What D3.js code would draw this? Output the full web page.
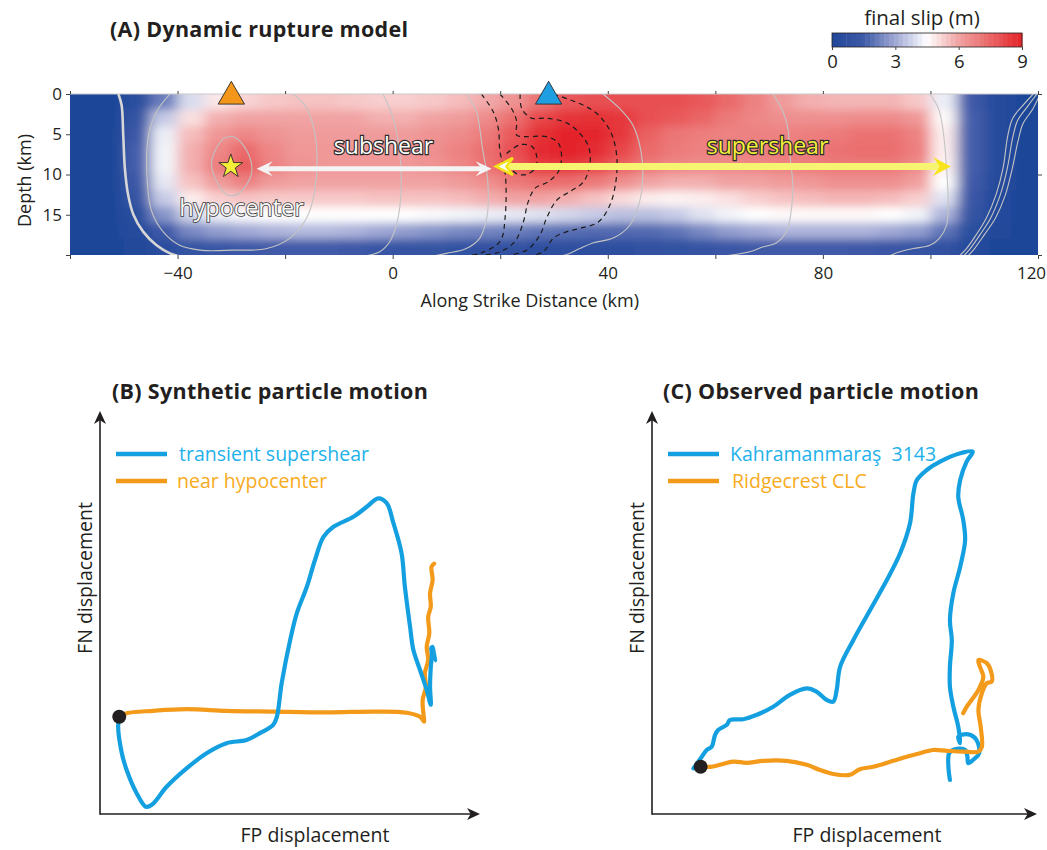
<!DOCTYPE html>
<html><head><meta charset="utf-8">
<script src="https://cdn.jsdelivr.net/npm/d3@7"></script>
<style>
body{margin:0;background:#fff;}
svg text{font-family:"Open Sans","Noto Sans",sans-serif;fill:#231f20;}
</style></head><body>
<svg id="fig" width="1047" height="850"></svg>
<script>
// ---------- Panel A: final slip of the dynamic rupture model ----------
// cell centres along strike (km) and down dip (km)
const strikeKm = [-57.5,-52.5,-47.5,-42.5,-37.5,-32.5,-27.5,-22.5,-17.5,-12.5,-7.5,-2.5,2.5,7.5,12.5,17.5,22.5,27.5,32.5,37.5,42.5,47.5,52.5,57.5,62.5,67.5,72.5,77.5,82.5,87.5,92.5,97.5,102.5,107.5,112.5,117.5];
const depthKm = [1,3,5,7,9,11,13,15,17,19];
// final slip (m), one row per depth
const slip01 = [0,0,0.6,2.2,3.9,4.9,5.2,5.4,5.5,5.5,5.4,5.3,5.3,5.4,5.6,5.9,6.4,7.2,7.8,8.0,8.0,8.0,8.0,7.8,7.4,6.8,6.2,5.8,5.7,5.7,5.7,5.4,4.2,1.5,0.3,0];
const slip03 = [0,0,1.0,3.6,5.0,5.8,6.0,6.0,6.0,6.0,6.0,5.8,5.8,6.0,6.2,6.6,7.3,8.2,8.6,8.7,8.5,8.0,7.8,7.5,7.0,6.7,6.5,6.5,6.5,6.6,6.6,6.3,4.6,1.6,0.3,0];
const slip05 = [0,0,1.4,4.2,5.6,6.3,6.7,6.4,6.2,6.2,6.2,6.2,6.2,6.4,6.6,7.0,7.8,8.7,9.0,8.9,8.5,7.6,7.1,6.9,6.8,6.8,6.8,6.9,7.0,7.2,7.2,6.8,4.8,1.6,0.3,0];
const slip07 = [0,0,1.6,4.3,5.8,6.7,7.4,6.7,6.3,6.3,6.3,6.3,6.3,6.5,6.8,7.3,8.0,8.8,9.0,8.8,8.2,7.4,7.0,6.8,6.8,6.9,7.0,7.0,7.2,7.3,7.3,6.9,4.8,1.6,0.3,0];
const slip09 = [0,0,1.6,4.3,5.8,6.9,7.7,6.8,6.4,6.3,6.3,6.3,6.3,6.4,6.7,7.2,7.8,8.4,8.5,8.2,7.6,7.0,6.7,6.6,6.6,6.7,6.8,6.9,7.0,7.0,7.0,6.6,4.7,1.6,0.3,0];
const slip11 = [0,0,1.4,4.1,5.5,6.2,6.8,6.2,6.0,6.0,6.0,6.0,6.0,6.0,6.2,6.5,7.0,7.3,7.3,7.0,6.5,6.0,5.8,5.8,6.0,6.0,6.2,6.3,6.5,6.5,6.5,6.1,4.5,1.5,0.3,0];
const slip13 = [0,0,1.0,3.6,4.8,5.3,5.5,5.4,5.4,5.4,5.4,5.5,5.5,5.5,5.6,5.8,6.0,6.0,5.8,5.5,5.1,4.8,4.7,4.8,5.0,5.3,5.5,5.6,5.7,5.7,5.6,5.3,4.0,1.3,0.2,0];
const slip15 = [0,0,0.6,2.6,3.8,4.2,4.4,4.5,4.5,4.5,4.5,4.5,4.5,4.4,4.3,4.2,4.1,4.0,3.8,3.6,3.4,3.4,3.6,4.0,4.3,4.5,4.6,4.6,4.6,4.6,4.5,4.3,3.2,1.0,0.2,0];
const slip17 = [0,0,0.3,1.4,2.4,2.8,3.0,3.2,3.3,3.3,3.2,3.0,2.8,2.6,2.4,2.3,2.2,2.0,1.9,1.8,1.8,1.8,2.0,2.4,2.8,3.0,3.2,3.2,3.2,3.2,3.0,2.8,2.0,0.6,0.1,0];
const slip19 = [0,0,0.1,0.5,1.0,1.2,1.4,1.5,1.5,1.5,1.4,1.2,1.1,1.0,0.9,0.8,0.8,0.7,0.7,0.7,0.7,0.8,0.9,1.1,1.3,1.5,1.5,1.5,1.5,1.4,1.3,1.1,0.8,0.3,0,0];
const slipRows = [slip01,slip03,slip05,slip07,slip09,slip11,slip13,slip15,slip17,slip19];

// colour map stops (m) and colours
const slipStops = [0,1.5,3,4.5,6,7.5,9];
const slipColors = ['#1f4799','#3f5aa8','#a0a9d5','#ffffff','#f1a3a3','#ea6666','#e3232a'];
const slipTicks = [0,3,6,9];

// rupture-front contours (solid, grey) as [along strike km, depth km]
const frontEdgeW = [[-51.0,0],[-50.4,1.4],[-50.1,5.1],[-49.8,9.2],[-49.2,12.5],[-48.2,15.0],[-46.4,17.1],[-43.9,18.8],[-41.4,19.8],[-39,20.3]];
const frontHypo = [[-31.5,5.5],[-29.6,5.3],[-28.1,6.1],[-26.5,8.0],[-26.2,9.7],[-27.2,11.3],[-29.0,12.5],[-30.9,12.5],[-32.7,10.9],[-33.7,8.8],[-33.0,7.0],[-31.5,5.5]];
const frontRing1 = [[-41.4,0],[-43.9,2.2],[-45.4,5.1],[-45.6,11.3],[-44.8,14.6],[-42.7,17.1],[-39.6,18.8],[-35.8,19.4],[-29.6,19.4],[-23.4,19.2],[-19.1,17.9],[-16.0,15.4],[-14.5,12.1],[-14.1,7.2],[-14.8,3.9],[-16.3,1.4],[-18.5,0]];
const frontRing2 = [[-1.8,0],[0.1,3.0],[1.3,7.2],[1.6,11.3],[1.0,15.4],[-0.5,18.3],[-2.4,19.6],[-6,20.2]];
const frontRing3 = [[13.7,0],[15.6,2.2],[16.2,4.3],[16.8,7.2],[17.5,9.7],[17.8,12.5],[17.5,15.4],[16.2,17.9],[13.7,19.2],[10.0,19.8],[7,20.2]];
const frontRing4 = [[39.1,0],[42.2,1.8],[44.7,3.9],[46.2,7.2],[46.5,10.5],[45.9,13.4],[44.1,16.3],[41.0,17.9],[37.2,18.5],[34.8,19.2],[32.9,19.8],[31,20.2]];
const frontRing5 = [[70.7,0],[72.6,2.2],[73.5,4.3],[73.8,7.2],[74.4,11.3],[74.1,14.6],[73.2,17.1],[71.3,18.5],[68.8,19.0],[66.4,19.6],[62.0,20.1]];
const frontRing6 = [[99.9,0],[101.5,1.8],[102.3,4.3],[103.0,9.2],[103.3,13.4],[103.0,16.3],[101.7,17.9],[99.9,18.8],[96.8,19.2],[94.3,19.6],[92.4,20.1]];
const frontEdgeE1 = [[119.1,0],[117.2,1.4],[115.3,3.0],[114.4,5.1],[113.5,9.2],[112.2,12.5],[110.4,15.4],[108.5,17.5],[106.7,19.2],[105.4,20.1]];
const frontEdgeE2 = [[119.8,0],[118.0,1.6],[116.2,3.3],[115.3,5.4],[114.3,9.2],[113.0,12.5],[111.2,15.4],[109.2,17.5],[107.4,19.2],[106.2,20.1]];
const frontEdgeE3 = [[120.2,0.3],[119.0,1.9],[117.2,3.7],[116.3,5.8],[115.2,9.3],[113.9,12.6],[112.1,15.4],[110.0,17.5],[108.2,19.2],[107.0,20.1]];
const rupFronts = [frontRing1,frontRing2,frontRing3,frontRing4,frontRing5,frontRing6,frontEdgeE1,frontEdgeE2,frontEdgeE3];

// dashed contours around the slip peak
const dashC1 = [[16.5,0],[18.7,2.2],[19.65,4.3],[19.96,7.2],[20.9,9.7],[20.9,15.4],[19.96,18.3],[16.2,19.8],[13.1,20.1]];
const dashC2 = [[19.96,0],[22.1,1.8],[23.06,3.4],[23.06,5.1],[24.9,5.3],[28.6,5.3],[30.8,6.1],[31.4,7.8],[30.8,9.65],[28.95,10.9],[26.5,11.7],[25.2,13.4],[24.3,15.9],[22.75,18.3],[19.96,19.6],[15.6,20.1]];
const dashC3 = [[21.2,7.4],[23.7,6.3],[25.85,6.5],[26.8,7.8],[26.5,9.2],[24.9,10.0],[23.06,9.9],[21.8,9.2]];
const dashC4 = [[23.7,0],[24.0,1.8],[25.85,3.0],[28.6,3.0],[32.4,3.6],[34.8,4.9],[36.4,6.5],[36.7,8.6],[35.5,10.9],[33.0,12.1],[30.5,13.2],[28.6,15.45],[27.4,17.5],[24.9,19.4],[21.2,20.1]];
const dashC5 = [[29.9,0],[35.5,1.4],[37.9,2.4],[39.8,3.85],[41.0,5.5],[41.7,8.0],[41.5,10.9],[40.4,13.8],[38.25,15.9],[34.8,16.7],[32.4,17.1],[29.9,17.9],[28.0,19.6],[25.5,20.1]];
const dashContours = [dashC1,dashC2,dashC3,dashC4,dashC5];

// stations, hypocentre and rupture-speed arrows
const stationKm = [-30, 29];
const stationFill = ['#f39619','#1f9ee2'];
const hypocentre = [-30.1, 9.0];
const subshearSpan = [-25.3, 18.4, 9.3];
const supershearSpan = [19.0, 103.8, 9.0];

const xTicksA = [-60,-40,-20,0,20,40,60,80,100,120];
const xLabelsA = [-40,0,40,80,120];
const yTicksA = [0,5,10,15,20];
const yLabelsA = [0,5,10,15];

// ---------- Panels B and C: particle motion (arbitrary units) ----------
const synthSupershear = [[5.2,24.3],[4.9,21.8],[5.9,15.2],[7.2,11.0],[9.9,5.2],[12.4,1.8],[14.0,2.3],[18.0,6.8],[23.4,11.4],[28.8,15.2],[34.2,17.7],[39.6,18.5],[43.2,20.2],[46.8,22.3],[47.8,24.3],[49.1,32.7],[51.4,43.5],[53.2,50.2],[55.9,56.8],[58.1,63.5],[60.4,69.3],[63.1,71.8],[68.5,74.3],[72.1,76.8],[75.2,78.9],[77.5,77.7],[79.3,72.7],[81.5,65.2],[82.4,56.8],[83.8,46.8],[84.7,41.0],[86.5,36.0],[88.3,31.0],[89.4,27.3],[89.2,31.8],[89.4,36.8],[89.7,39.8],[89.5,41.6],[90.3,39.6],[89.9,41.8],[90.6,38.4],[90.1,40.6]];
const synthHypocentre = [[5.2,24.3],[7.2,25.2],[14.4,25.8],[23.4,26.2],[34.2,25.8],[46.8,25.6],[61.3,25.4],[74.8,25.6],[82.9,25.3],[86.5,24.3],[87.6,23.1],[87.6,23.5],[87.2,28.5],[88.1,31.8],[87.8,35.2],[88.7,38.5],[88.3,41.8],[89.0,45.2],[88.7,49.3],[89.4,51.8],[89.2,55.2],[89.9,58.5],[89.6,61.8],[90.3,62.6]];
const obsKahramanmaras = [[10.9,11.4],[13.1,14.3],[14.4,16.0],[15.7,16.8],[16.6,19.8],[17.4,21.0],[19.7,22.3],[20.5,23.5],[24.0,23.7],[27.6,24.8],[31.9,26.8],[36.3,29.8],[40.7,31.4],[43.3,30.6],[46.0,28.5],[47.7,28.1],[48.6,31.0],[49.5,36.8],[53.0,43.5],[57.4,51.0],[61.8,58.5],[65.3,65.2],[67.9,72.7],[68.8,80.2],[69.7,83.5],[72.3,86.0],[75.8,88.1],[81.1,90.2],[84.4,90.6],[82.8,88.1],[81.1,83.5],[80.6,79.3],[81.9,73.5],[82.4,68.5],[81.1,61.8],[79.3,55.2],[78.4,48.5],[78.9,43.5],[78.4,36.8],[78.4,31.8],[79.3,26.8],[80.6,21.8],[81.1,17.7],[80.6,19.3],[81.5,19.8],[83.7,19.8],[85.4,18.5],[86.1,15.2],[84.7,13.7],[83.2,12.7],[83.0,14.3],[82.4,16.0],[79.7,16.2],[78.2,15.2],[78.0,11.8],[78.4,8.5]];
const obsRidgecrest = [[12.8,11.8],[15.3,11.8],[17.9,12.3],[21.4,13.1],[24.9,12.8],[29.3,13.3],[35.4,13.3],[40.7,12.3],[44.2,11.0],[47.7,10.0],[52.1,9.8],[54.7,11.2],[58.2,11.8],[63.5,13.3],[67.0,14.3],[70.5,15.2],[74.0,16.0],[77.6,15.8],[81.9,15.6],[85.9,15.6],[86.8,16.8],[86.5,21.8],[85.9,26.0],[86.8,30.2],[88.1,32.7],[89.4,33.1],[89.1,36.0],[88.1,37.7],[85.9,38.5],[86.3,36.8],[87.2,34.3],[86.3,31.8],[85.4,30.2],[84.1,28.5],[82.8,26.8],[81.9,25.2]];

const blueLine = '#14a0e0', orangeLine = '#f39a1b';
const blueText = '#22b1ea', orangeText = '#f7ab1c';

// ====================== drawing ======================
const svg = d3.select('#fig');
const defs = svg.append('defs');

const sx = d3.scaleLinear().domain([-60,120]).range([70,1038]);
const sy = d3.scaleLinear().domain([0,20]).range([94,255]);
const slipColor = d3.scaleLinear().domain(slipStops).range(slipColors).interpolate(d3.interpolateRgb).clamp(true);

// --- title
svg.append('text').attr('x',110).attr('y',37).attr('font-size',21.5).attr('font-weight',700)
  .attr('letter-spacing',0.3).text('(A) Dynamic rupture model');

// --- slip field
defs.append('clipPath').attr('id','clipA').append('rect')
  .attr('x',sx(-60)).attr('y',sy(0)).attr('width',sx(120)-sx(-60)).attr('height',sy(20)-sy(0));
defs.append('filter').attr('id','soft').attr('x','-10%').attr('y','-30%').attr('width','120%').attr('height','160%')
  .append('feGaussianBlur').attr('stdDeviation','7 4');

const cells = [];
slipRows.forEach((row,i)=>row.forEach((v,j)=>cells.push({x:strikeKm[j], d:depthKm[i], v, i, j})));
const nCol = strikeKm.length, nRow = depthKm.length, pad = 25;
svg.append('g').attr('clip-path','url(#clipA)')
  .append('g').attr('filter','url(#soft)')
  .selectAll('rect').data(cells).join('rect')
  .attr('x', c => sx(c.x-2.5) - (c.j===0?pad:0))
  .attr('y', c => sy(c.d-1) - (c.i===0?pad:0))
  .attr('width', c => sx(c.x+2.5)-sx(c.x-2.5)+0.8 + (c.j===0?pad:0) + (c.j===nCol-1?pad:0))
  .attr('height', c => sy(c.d+1)-sy(c.d-1)+0.8 + (c.i===0?pad:0) + (c.i===nRow-1?pad:0))
  .attr('fill', c => slipColor(c.v));

const lineA = d3.line().x(p=>sx(p[0])).y(p=>sy(p[1])).curve(d3.curveCatmullRom.alpha(0.5));
const gC = svg.append('g').attr('clip-path','url(#clipA)').attr('fill','none');
gC.append('path').attr('d',lineA(frontEdgeW)).attr('stroke','#d6d6d6').attr('stroke-width',2.6);
gC.selectAll('path.front').data(rupFronts).join('path').attr('class','front')
  .attr('d',lineA).attr('stroke','#c4c4c4').attr('stroke-width',1.1);
gC.append('path').attr('d',lineA(frontHypo)).attr('stroke','#c0c0c0').attr('stroke-width',1.1);
gC.selectAll('path.dash').data(dashContours).join('path').attr('class','dash')
  .attr('d',lineA).attr('stroke','#1b1b1b').attr('stroke-width',1.2).attr('stroke-dasharray','5,4');

// --- frame and ticks
svg.append('line').attr('x1',sx(-60)).attr('x2',sx(120)).attr('y1',sy(0)).attr('y2',sy(0))
  .attr('stroke','#c9c9c9').attr('stroke-width',1);
const styleAxis = (g, size) => { g.select('.domain').remove(); g.selectAll('.tick line').attr('stroke','#444');
  g.selectAll('.tick text').attr('font-size',size||17).attr('fill','#231f20').attr('font-family','"Open Sans",sans-serif'); };
svg.append('g').attr('transform',`translate(0,${sy(20)})`)
  .call(d3.axisBottom(sx).tickValues(xTicksA).tickSize(4).tickPadding(8)
    .tickFormat(d => xLabelsA.includes(d) ? d3.format('')(d) : ''))
  .call(g => styleAxis(g, 17))
  .call(g => g.selectAll('.tick text').filter(d => d === 120).attr('dx', -7));
svg.append('g').attr('transform',`translate(0,${sy(0)})`)
  .call(d3.axisTop(sx).tickValues(xTicksA).tickSize(3).tickFormat('')).call(styleAxis);
svg.append('g').attr('transform',`translate(${sx(-60)},0)`)
  .call(d3.axisLeft(sy).tickValues(yTicksA).tickSize(4).tickPadding(4)
    .tickFormat(d => yLabelsA.includes(d) ? d : ''))
  .call(g => styleAxis(g, 17));
svg.append('g').attr('transform',`translate(${sx(120)},0)`)
  .call(d3.axisRight(sy).tickValues([0,10,20]).tickSize(4).tickFormat('')).call(styleAxis);

svg.append('text').attr('transform',`translate(31,${(sy(0)+sy(20))/2+6}) rotate(-90)`)
  .attr('text-anchor','middle').attr('font-size',18).text('Depth (km)');
svg.append('text').attr('x',sx(25.5)).attr('y',307).attr('text-anchor','middle').attr('font-size',18)
  .text('Along Strike Distance (km)');

// --- arrows for rupture speed
const headPath = (x,y,dir,len,half) => {
  const p = d3.path();
  p.moveTo(x,y); p.lineTo(x-dir*len,y-half); p.lineTo(x-dir*len*0.62,y); p.lineTo(x-dir*len,y+half); p.closePath();
  return p.toString();
};
{
  const [a,b,d] = subshearSpan, y = sy(d);
  svg.append('line').attr('x1',sx(a)+8).attr('x2',sx(b)-8).attr('y1',y).attr('y2',y)
    .attr('stroke','#f4f4f4').attr('stroke-width',5);
  svg.append('path').attr('d',headPath(sx(a),y,-1,16,7.5)).attr('fill','#f4f4f4');
  svg.append('path').attr('d',headPath(sx(b),y,1,16,7.5)).attr('fill','#f4f4f4');
}
{
  const [a,b,d] = supershearSpan, y = sy(d);
  svg.append('line').attr('x1',sx(a)+10).attr('x2',sx(b)-10).attr('y1',y).attr('y2',y)
    .attr('stroke','#f7f472').attr('stroke-width',7);
  svg.append('path').attr('d',headPath(sx(a)+1,y,-1,17,8.5)).attr('fill','#ffffff')
    .attr('stroke','#f5e31a').attr('stroke-width',2.5).attr('stroke-linejoin','miter');
  svg.append('path').attr('d',headPath(sx(b),y,1,18,9.5)).attr('fill','#f7e41c');
}

// --- stations and hypocentre
svg.selectAll('path.sta').data(stationKm).join('path').attr('class','sta')
  .attr('d', d3.symbol(d3.symbolTriangle, 300)())
  .attr('transform', d => `translate(${sx(d)},${sy(0)+2.5})`)
  .attr('fill',(d,i)=>stationFill[i]).attr('stroke','#2a2a2a').attr('stroke-width',0.9);
svg.append('path').attr('d', d3.symbol(d3.symbolStar, 175)())
  .attr('transform',`translate(${sx(hypocentre[0])},${sy(hypocentre[1])})`)
  .attr('fill','#f4ee3a').attr('stroke','#2a2a2a').attr('stroke-width',0.9);

// --- labels on the fault
const outlined = (x,y,txt,fill,stroke,sw,size) => svg.append('text').attr('x',x).attr('y',y)
  .attr('text-anchor','middle').attr('font-size',size).text(txt)
  .style('fill',fill).attr('stroke',stroke).attr('stroke-width',sw).attr('paint-order','stroke');
outlined(sx(-1.7), sy(7.4), 'subshear', '#ffffff', '#2b2b2b', 2.4, 23);
outlined(sx(69.7), sy(7.5), 'supershear', '#f3ee3a', '#2b2b2b', 2.4, 23);
outlined(sx(-28.1), sy(15.2), 'hypocenter', '#f7f7f7', '#3c3c3c', 1.6, 23.5);

// --- colour bar
const cx = d3.scaleLinear().domain([0,9]).range([832,1022]);
const barSteps = d3.range(0,9,0.225);
svg.append('g').selectAll('rect').data(barSteps).join('rect')
  .attr('x',d=>cx(d)).attr('y',33).attr('width',cx(0.225)-cx(0)+0.5).attr('height',14)
  .attr('fill',d=>slipColor(d+0.1125));
svg.append('rect').attr('x',cx(0)).attr('y',33).attr('width',cx(9)-cx(0)).attr('height',14)
  .attr('fill','none').attr('stroke','#231f20').attr('stroke-width',0.8);
svg.append('g').attr('transform','translate(0,47)')
  .call(d3.axisBottom(cx).tickValues(slipTicks).tickSize(3).tickPadding(5))
  .call(g => styleAxis(g, 18.5));
svg.append('text').attr('x',922).attr('y',25).attr('text-anchor','middle').attr('font-size',20.5)
  .text('final slip (m)');

// ====================== Panels B and C ======================
const arrowHead = (x,y,dir) => {
  const p = d3.path(), L = 13, H = 6;
  if (dir==='up'){ p.moveTo(x,y); p.lineTo(x+H,y+L); p.lineTo(x,y+L*0.72); p.lineTo(x-H,y+L); }
  else { p.moveTo(x,y); p.lineTo(x-L,y-H); p.lineTo(x-L*0.72,y); p.lineTo(x-L,y+H); }
  p.closePath(); return p.toString();
};

function motionPanel(opt){
  const g = svg.append('g');
  const px = d3.scaleLinear().domain([0,100]).range([opt.x0, opt.x1]);
  const py = d3.scaleLinear().domain([0,100]).range([814,414]);
  g.append('text').attr('x',opt.titleX).attr('y',399).attr('font-size',21.5).attr('font-weight',700)
    .attr('letter-spacing',0.3).text(opt.title);
  // axes with arrows
  g.append('line').attr('x1',px(0)).attr('x2',px(0)).attr('y1',py(0)+0.7).attr('y2',opt.yTip+6)
    .attr('stroke','#231f20').attr('stroke-width',1.6);
  g.append('line').attr('x1',px(0)).attr('x2',opt.xTip-6).attr('y1',py(0)).attr('y2',py(0))
    .attr('stroke','#231f20').attr('stroke-width',1.6);
  g.append('path').attr('d',arrowHead(px(0),opt.yTip,'up')).attr('fill','#231f20');
  g.append('path').attr('d',arrowHead(opt.xTip,py(0),'right')).attr('fill','#231f20');
  g.append('text').attr('transform',`translate(${opt.fnX},578) rotate(-90)`).attr('text-anchor','middle')
    .attr('font-size',19.5).text('FN displacement');
  g.append('text').attr('x',opt.fpX).attr('y',842).attr('text-anchor','middle').attr('font-size',19.5)
    .text('FP displacement');
  // legend
  opt.legend.forEach((L,i)=>{
    const y = 454 + i*27;
    g.append('line').attr('x1',opt.legX).attr('x2',opt.legX+51).attr('y1',y).attr('y2',y)
      .attr('stroke',L.color).attr('stroke-width',4.5);
    g.append('text').attr('x',L.tx).attr('y',y+6.5).attr('font-size',19.5).style('fill',L.textColor).text(L.label);
  });
  const ln = d3.line().x(p=>px(p[0])).y(p=>py(p[1])).curve(d3.curveCatmullRom.alpha(0.5));
  opt.series.forEach(s => g.append('path').attr('d',ln(s.data)).attr('fill','none')
    .attr('stroke',s.color).attr('stroke-width',4.2).attr('stroke-linejoin','round').attr('stroke-linecap','round'));
  g.append('circle').attr('cx',px(opt.start[0])).attr('cy',py(opt.start[1])).attr('r',7).attr('fill','#231f20');
}

motionPanel({
  title:'(B) Synthetic particle motion', titleX:112, x0:100, x1:470, xTip:480, yTip:411,
  fnX:92, fpX:315, legX:116,
  legend:[{color:blueLine,textColor:blueText,label:'transient supershear',tx:179},
          {color:orangeLine,textColor:orangeText,label:'near hypocenter',tx:177}],
  series:[{data:synthHypocentre,color:orangeLine},{data:synthSupershear,color:blueLine}],
  start:synthSupershear[0]
});
motionPanel({
  title:'(C) Observed particle motion', titleX:663, x0:652, x1:1032, xTip:1037, yTip:411,
  fnX:644, fpX:867, legX:668,
  legend:[{color:blueLine,textColor:blueText,label:'Kahramanmaraş\u00a0\u00a03143',tx:730},
          {color:orangeLine,textColor:orangeText,label:'Ridgecrest CLC',tx:732}],
  series:[{data:obsKahramanmaras,color:blueLine},{data:obsRidgecrest,color:orangeLine}],
  start:obsRidgecrest[0]
});
</script>
</body></html>
